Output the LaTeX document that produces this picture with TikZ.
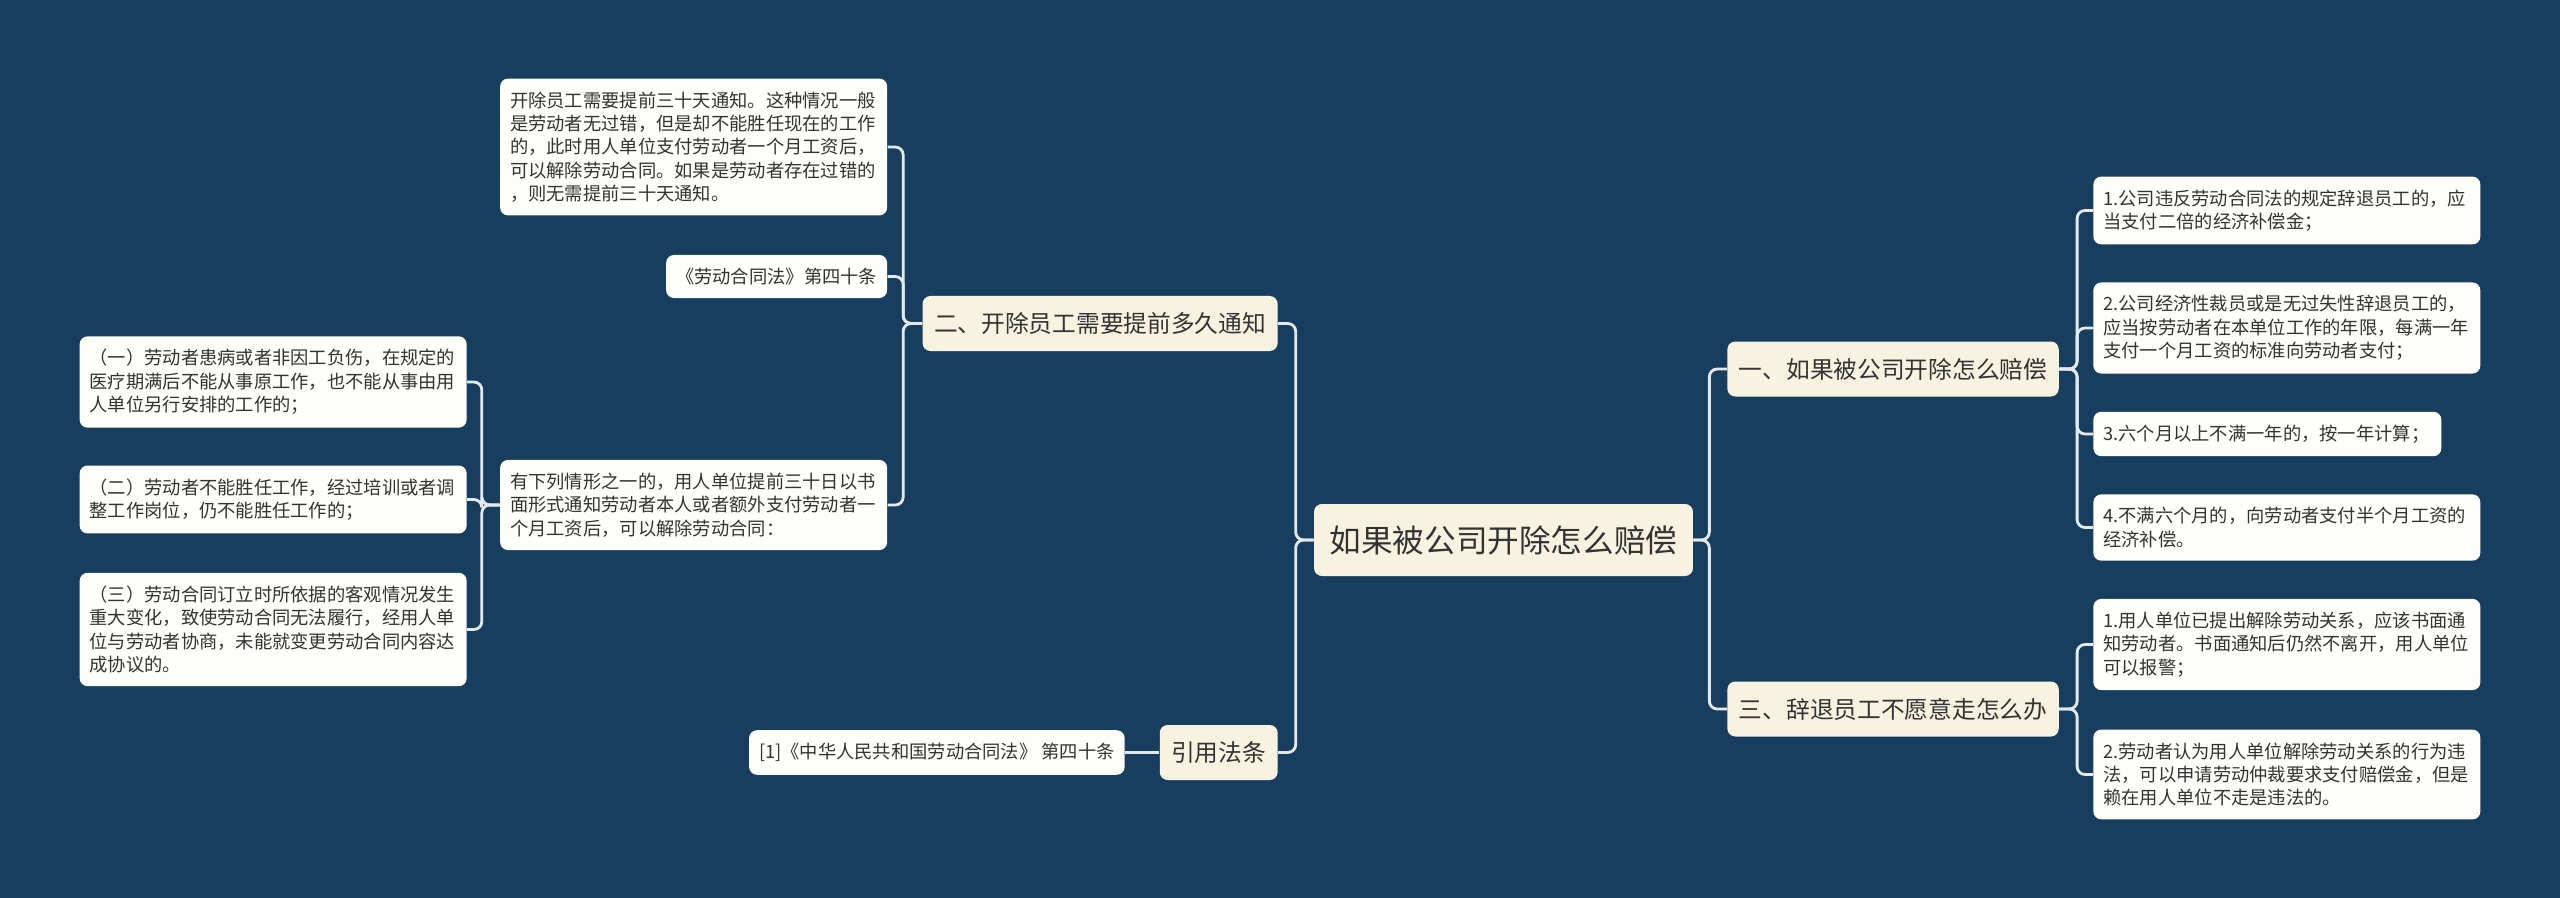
\documentclass[tikz,border=0pt]{standalone}
\usepackage{fontspec}
\newfontfamily\cjk{Noto Sans CJK SC}
\definecolor{map-bg}{HTML}{183E5F}
\definecolor{map-cream}{HTML}{F8F3E1}
\definecolor{map-paper}{HTML}{FDFDF9}
\definecolor{map-ink}{HTML}{333333}
\definecolor{map-line}{HTML}{E6E9EC}

\begin{document}
\begin{tikzpicture}[
    font=\cjk,
    root/.style={fill=map-cream, rounded corners=4.5pt, text=map-ink, font=\cjk\fontsize{18}{22}\selectfont, inner xsep=0.31cm, minimum height=1.44cm},
    topic/.style={fill=map-cream, rounded corners=4.5pt, text=map-ink, font=\cjk\fontsize{13.5}{16}\selectfont, inner xsep=0.23cm, minimum height=1.1cm},
    leaf/.style={fill=map-paper, rounded corners=4.5pt, text=map-ink, font=\cjk\fontsize{10.4}{13.3}\selectfont, align=left, inner xsep=0.2cm, inner ysep=0.26cm},
    wide/.style={text width=7.34cm},
    link/.style={draw=map-line, line width=1.6pt, rounded corners=4.5pt}
]
\useasboundingbox (0,0) rectangle (51.2,-17.96);
\fill[map-bg] (0,0) rectangle (51.2,-17.96);

\node[root] (root) at (30.07,-10.80) {如果被公司开除怎么赔偿};
\node[topic, anchor=west] (t1) at (34.54,-7.38) {一、如果被公司开除怎么赔偿};
\node[topic, anchor=west] (t3) at (34.54,-14.18) {三、辞退员工不愿意走怎么办};
\node[topic, anchor=east] (t2) at (25.56,-6.47) {二、开除员工需要提前多久通知};
\node[topic, anchor=east] (t4) at (25.56,-15.05) {引用法条};

\node[leaf, wide, anchor=west] (t1a) at (41.86,-4.21) {1.公司违反劳动合同法的规定辞退员工的，应\\当支付二倍的经济补偿金；};
\node[leaf, wide, anchor=west] (t1b) at (41.86,-6.56) {2.公司经济性裁员或是无过失性辞退员工的，\\应当按劳动者在本单位工作的年限，每满一年\\支付一个月工资的标准向劳动者支付；};
\node[leaf, text width=6.56cm, anchor=west] (t1c) at (41.86,-8.68) {3.六个月以上不满一年的，按一年计算；};
\node[leaf, wide, anchor=west] (t1d) at (41.86,-10.55) {4.不满六个月的，向劳动者支付半个月工资的\\经济补偿。};
\node[leaf, wide, anchor=west] (t3a) at (41.86,-12.89) {1.用人单位已提出解除劳动关系，应该书面通\\知劳动者。书面通知后仍然不离开，用人单位\\可以报警；};
\node[leaf, wide, anchor=west] (t3b) at (41.86,-15.49) {2.劳动者认为用人单位解除劳动关系的行为违\\法，可以申请劳动仲裁要求支付赔偿金，但是\\赖在用人单位不走是违法的。};

\node[leaf, wide, anchor=east] (t2a) at (17.75,-2.94) {开除员工需要提前三十天通知。这种情况一般\\是劳动者无过错，但是却不能胜任现在的工作\\的，此时用人单位支付劳动者一个月工资后，\\可以解除劳动合同。如果是劳动者存在过错的\\，则无需提前三十天通知。};
\node[leaf, anchor=east] (t2b) at (17.75,-5.53) {《劳动合同法》第四十条};
\node[leaf, wide, anchor=east] (t2c) at (17.75,-10.10) {有下列情形之一的，用人单位提前三十日以书\\面形式通知劳动者本人或者额外支付劳动者一\\个月工资后，可以解除劳动合同：};
\node[leaf, wide, anchor=east] (t2c1) at (9.34,-7.64) {（一）劳动者患病或者非因工负伤，在规定的\\医疗期满后不能从事原工作，也不能从事由用\\人单位另行安排的工作的；};
\node[leaf, wide, anchor=east] (t2c2) at (9.34,-9.99) {（二）劳动者不能胜任工作，经过培训或者调\\整工作岗位，仍不能胜任工作的；};
\node[leaf, wide, anchor=east] (t2c3) at (9.34,-12.59) {（三）劳动合同订立时所依据的客观情况发生\\重大变化，致使劳动合同无法履行，经用人单\\位与劳动者协商，未能就变更劳动合同内容达\\成协议的。};
\node[leaf, anchor=east] (t4a) at (22.50,-15.05) {[1]《中华人民共和国劳动合同法》 第四十条};

\foreach \c in {t1,t3}
    \draw[link] (root.east) -- ++(0.32,0) |- (\c.west);
\foreach \c in {t2,t4}
    \draw[link] (root.west) -- ++(-0.36,0) |- (\c.east);
\foreach \c in {t1a,t1b,t1c,t1d}
    \draw[link] (t1.east) -- ++(0.36,0) |- (\c.west);
\foreach \c in {t3a,t3b}
    \draw[link] (t3.east) -- ++(0.36,0) |- (\c.west);
\foreach \c in {t2a,t2b,t2c}
    \draw[link] (t2.west) -- ++(-0.38,0) |- (\c.east);
\foreach \c in {t2c1,t2c2,t2c3}
    \draw[link] (t2c.west) -- ++(-0.36,0) |- (\c.east);
\draw[link] (t4.west) -- (t4a.east);
\end{tikzpicture}
\end{document}
